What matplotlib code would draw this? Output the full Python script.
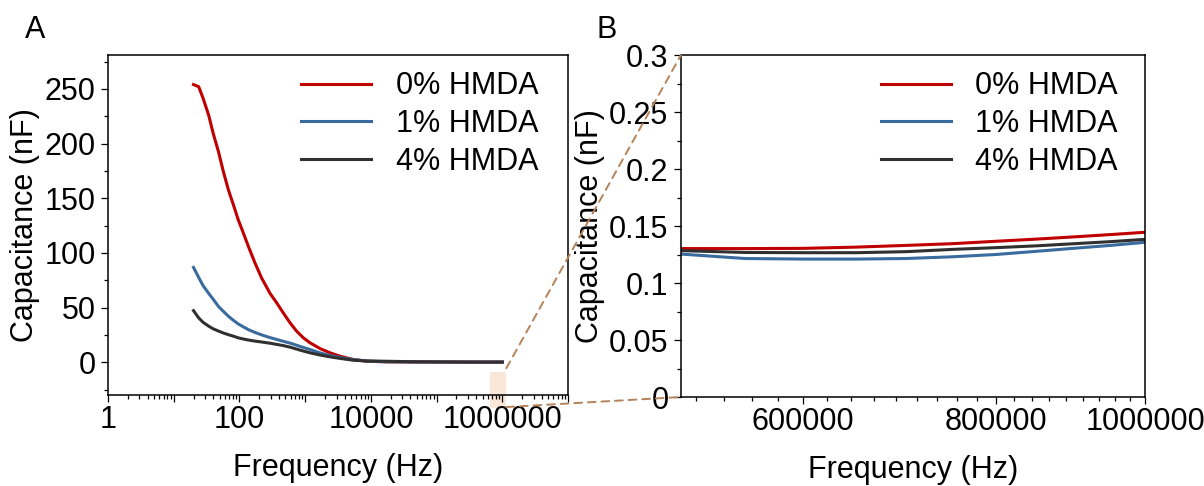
import matplotlib
matplotlib.use("Agg")
import matplotlib.pyplot as plt
import matplotlib.ticker as ticker
from matplotlib.patches import Rectangle, ConnectionPatch

plt.rcParams['font.family'] = ['Liberation Sans', 'DejaVu Sans']

# measured capacitance vs frequency
freq = [20, 24, 28, 34, 40, 48, 57, 68, 81, 96, 115, 137, 173, 218, 292,
        370, 466, 589, 744, 939, 1188, 1686, 2393, 3390, 5400, 8700, 17000,
        40000, 100000, 300000, 500000, 550000, 600000, 650000, 700000,
        750000, 800000, 850000, 900000, 950000, 1000000]
cap_0 = [254, 252, 241.4, 226, 209, 192.5, 174.2, 157.6, 143.9, 130.2, 118,
         105.8, 90.6, 76.9, 63, 54.2, 45, 36, 28.3, 22.3, 17.7, 12.5, 8.6,
         5.5, 2.5, 0.9, 0.3, 0.2, 0.2, 0.15, 0.1302, 0.1302, 0.1304, 0.1315,
         0.133, 0.1345, 0.1366, 0.1385, 0.1405, 0.1425, 0.1445]
cap_1 = [86.7, 77.5, 70, 63, 57.5, 51, 46.5, 42, 38.3, 35, 32.3, 29.8, 27.2,
         25, 22.5, 20.8, 19.1, 17.5, 15.5, 13.5, 11.6, 8.5, 6.1, 4.3, 2.5,
         1.1, 0.5, 0.3, 0.2, 0.14, 0.1254, 0.1215, 0.121, 0.121, 0.1215,
         0.123, 0.125, 0.1278, 0.1305, 0.133, 0.1357]
cap_4 = [47.2, 40.5, 36.5, 33, 30.5, 28.5, 26.7, 25.2, 23.8, 22.3, 21.2, 20.3,
         19.3, 18.5, 17.4, 16.3, 15.2, 13.8, 12, 10.2, 8.6, 6.6, 4.9, 3.5, 1.8,
         1.1, 0.9, 0.5, 0.3, 0.16, 0.1284, 0.1268, 0.1266, 0.1266, 0.1275,
         0.1295, 0.131, 0.1326, 0.1345, 0.1363, 0.1383]
labels = ["0% HMDA", "1% HMDA", "4% HMDA"]
colors = ["#c00000", "#3a6b9e", "#303030"]

fs = 22
fig = plt.figure(figsize=(12.04, 4.86), dpi=100)
axA = fig.add_axes([0.0897, 0.1872, 0.3821, 0.6996])
axB = fig.add_axes([0.5656, 0.1831, 0.3854, 0.7037])

for ax in (axA, axB):
    for c, y, lab in zip(colors, [cap_0, cap_1, cap_4], labels):
        ax.plot(freq, y, color=c, lw=2.2, label=lab)
    for s in ax.spines.values():
        s.set_linewidth(1.1)
    ax.tick_params(which='major', direction='out', length=5, width=0.9,
                   pad=4, labelsize=fs)
    ax.tick_params(axis='x', which='major', pad=2)
    ax.tick_params(which='minor', direction='out', length=3, width=0.9)
    ax.set_xscale('log')
    ax.set_xlabel("Frequency (Hz)", fontsize=fs, labelpad=13)
    ax.set_ylabel("Capacitance (nF)", fontsize=fs, labelpad=3)
    ax.legend(loc='upper left', frameon=False, fontsize=fs, handlelength=2.3,
              handletextpad=0.8, labelspacing=0.25, borderpad=0,
              borderaxespad=0,
              bbox_to_anchor=(0.42, 0.952) if ax is axA else (0.43, 0.952))

# panel A: full range, log axis
axA.set_xlim(1, 1e7)
axA.set_ylim(-30, 281)
axA.xaxis.set_major_locator(ticker.LogLocator(base=10, numticks=20))
axA.xaxis.set_minor_locator(ticker.LogLocator(base=10, subs=range(2, 10), numticks=100))
axA.xaxis.set_major_formatter(ticker.FuncFormatter(
    lambda v, _: f"{v:.0f}" if v in (1, 100, 1e4, 1e6) else ""))
axA.xaxis.set_minor_formatter(ticker.NullFormatter())
axA.yaxis.set_major_locator(ticker.MultipleLocator(50))
axA.yaxis.set_minor_locator(ticker.MultipleLocator(25))

# panel B: zoom on the high-frequency end
axB.set_xlim(5e5, 1e6)
axB.set_ylim(0, 0.3)
axB.xaxis.set_major_locator(ticker.FixedLocator([6e5, 8e5, 1e6]))
axB.xaxis.set_minor_locator(ticker.MultipleLocator(200000 / 9))
axB.xaxis.set_major_formatter(ticker.FuncFormatter(lambda v, _: f"{v:.0f}"))
axB.xaxis.set_minor_formatter(ticker.NullFormatter())
axB.yaxis.set_major_locator(ticker.MultipleLocator(0.05))
axB.yaxis.set_minor_locator(ticker.MultipleLocator(0.025))
axB.yaxis.set_major_formatter(ticker.FuncFormatter(lambda v, _: f"{v:g}"))

# highlighted region and connector lines
axA.add_patch(Rectangle((6.5e5, -42), 1.15e6 - 6.5e5, 33, facecolor='#fbe7d8',
                        edgecolor='none', clip_on=False, zorder=1))
for ya, yb in [(-5.5, 0.3), (-41, 0.0)]:
    con = ConnectionPatch(xyA=(1.15e6, ya), coordsA=axA.transData,
                          xyB=(5e5, yb), coordsB=axB.transData,
                          color='#b5835a', lw=1.4, linestyle=(0, (4, 3)))
    fig.add_artist(con)

fig.text(35 / 1204, 1 - 30 / 486, "A", fontsize=fs, ha='center', va='center')
fig.text(607 / 1204, 1 - 30 / 486, "B", fontsize=fs, ha='center', va='center')

fig.savefig("out.png", dpi=100)
